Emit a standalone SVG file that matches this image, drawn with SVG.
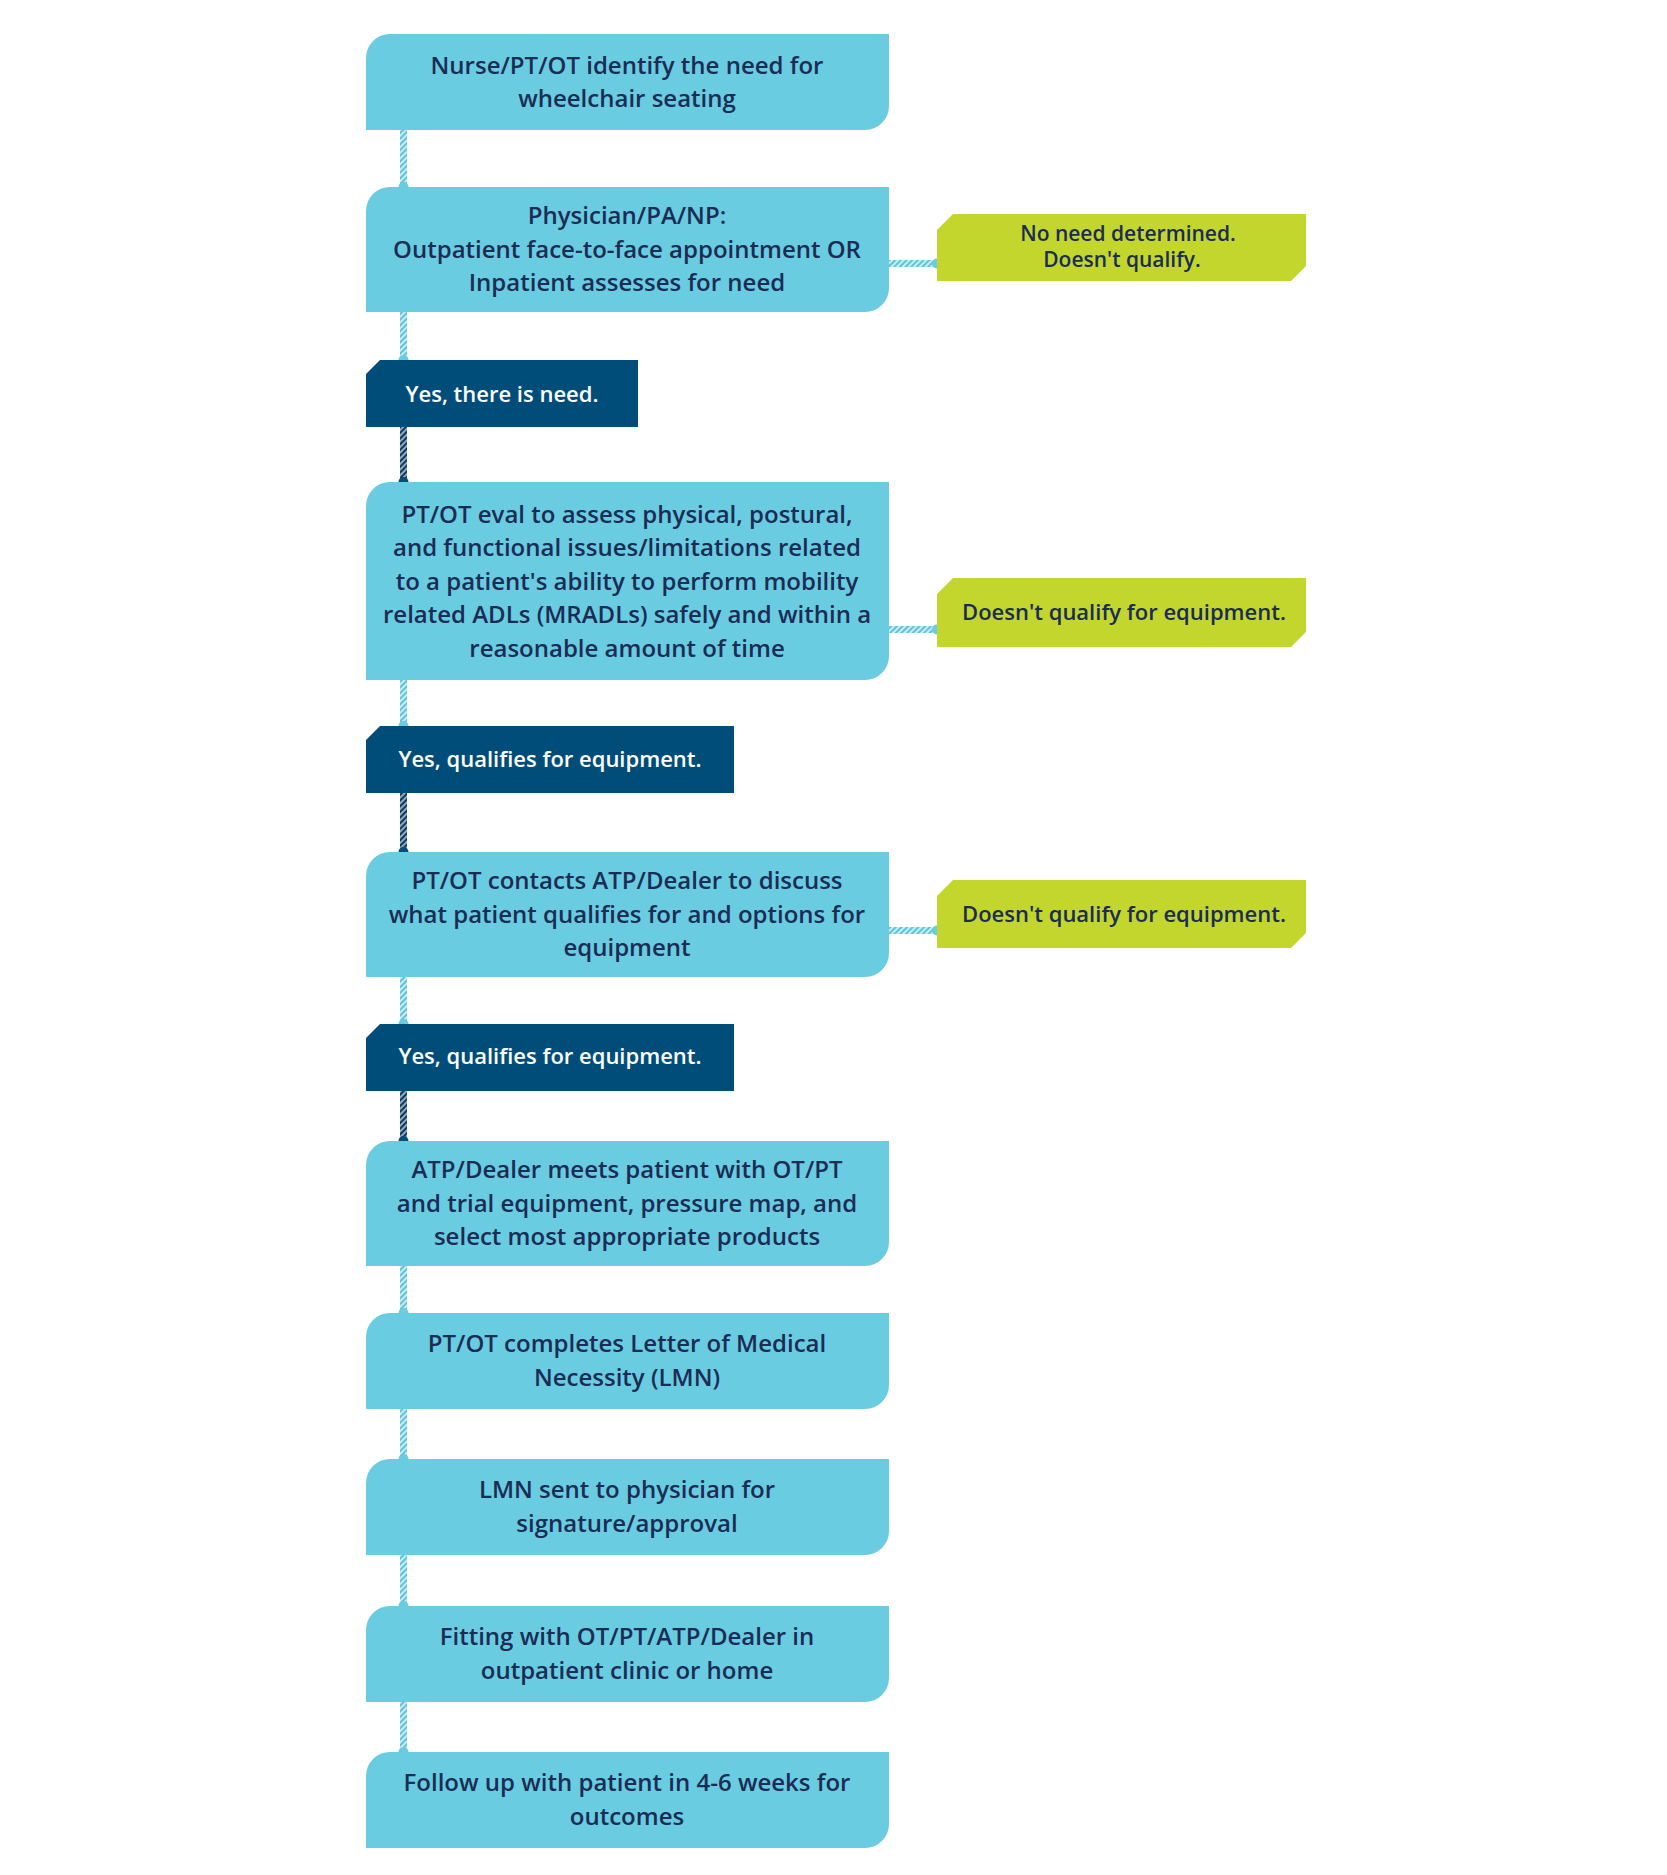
<svg xmlns="http://www.w3.org/2000/svg" width="1667" height="1875" viewBox="0 0 1667 1875">
<defs>
<pattern id="hl" width="4" height="4" patternUnits="userSpaceOnUse" patternTransform="rotate(45)"><rect width="4" height="4" fill="#c9ecf4"/><rect width="2" height="4" fill="#5cc4dc"/></pattern>
<pattern id="hd" width="4" height="4" patternUnits="userSpaceOnUse" patternTransform="rotate(45)"><rect width="4" height="4" fill="#8fa9bf"/><rect width="2" height="4" fill="#0e3a63"/></pattern>
<style>
.b{fill:#69cce1}
.d{fill:#004d7a}
.g{fill:#c2d62e}
text{font-family:"Open Sans","Noto Sans",sans-serif;text-anchor:middle;font-weight:600}
.t{font-size:24px;fill:#1b2c55}
.w{font-size:22px;fill:#ffffff}
.k{font-size:22px;fill:#1b2c55}
.k2{font-size:21px;fill:#1b2c55}
</style>
</defs>
<rect width="1667" height="1875" fill="#fff"/>
<g id="connectors">
<rect x="400" y="130" width="7" height="57" fill="url(#hl)"/><circle cx="403.5" cy="187" r="5" fill="#69cce1"/>
<rect x="400" y="312" width="7" height="48" fill="url(#hl)"/><circle cx="403.5" cy="360" r="5" fill="#69cce1"/>
<rect x="400" y="427" width="7" height="55" fill="url(#hd)"/><circle cx="403.5" cy="482" r="5" fill="#004d7a"/>
<rect x="400" y="680" width="7" height="46" fill="url(#hl)"/><circle cx="403.5" cy="726" r="5" fill="#69cce1"/>
<rect x="400" y="793" width="7" height="59" fill="url(#hd)"/><circle cx="403.5" cy="852" r="5" fill="#004d7a"/>
<rect x="400" y="977" width="7" height="47" fill="url(#hl)"/><circle cx="403.5" cy="1024" r="5" fill="#69cce1"/>
<rect x="400" y="1091" width="7" height="50" fill="url(#hd)"/><circle cx="403.5" cy="1141" r="5" fill="#004d7a"/>
<rect x="400" y="1266" width="7" height="47" fill="url(#hl)"/><circle cx="403.5" cy="1313" r="5" fill="#69cce1"/>
<rect x="400" y="1409" width="7" height="50" fill="url(#hl)"/><circle cx="403.5" cy="1459" r="5" fill="#69cce1"/>
<rect x="400" y="1555" width="7" height="51" fill="url(#hl)"/><circle cx="403.5" cy="1606" r="5" fill="#69cce1"/>
<rect x="400" y="1702" width="7" height="50" fill="url(#hl)"/><circle cx="403.5" cy="1752" r="5" fill="#69cce1"/>
<rect x="889" y="260" width="48" height="7" fill="url(#hl)"/><circle cx="937" cy="263.5" r="5" fill="#69cce1"/>
<rect x="889" y="626" width="48" height="7" fill="url(#hl)"/><circle cx="937" cy="629.5" r="5" fill="#69cce1"/>
<rect x="889" y="927" width="48" height="7" fill="url(#hl)"/><circle cx="937" cy="930.5" r="5" fill="#69cce1"/>
</g>
<g id="n1"><path class="b" d="M390 34H889V106A24 24 0 0 1 865 130H366V58A24 24 0 0 1 390 34Z"/>
<text class="t"><tspan x="627" y="74">Nurse/PT/OT identify the need for</tspan><tspan x="627" y="107">wheelchair seating</tspan></text></g>
<g id="n2"><path class="b" d="M390 187H889V288A24 24 0 0 1 865 312H366V211A24 24 0 0 1 390 187Z"/>
<text class="t"><tspan x="627" y="224">Physician/PA/NP:</tspan><tspan x="627" y="258">Outpatient face-to-face appointment OR</tspan><tspan x="627" y="291">Inpatient assesses for need</tspan></text></g>
<g id="g1"><path class="g" d="M953 214H1306V266L1291 281H937V230Z"/>
<text class="k2"><tspan x="1128" y="241">No need determined.</tspan><tspan x="1122" y="267">Doesn't qualify.</tspan></text></g>
<g id="y1"><path class="d" d="M380 360H638V427H366V374Z"/><text class="w" x="502" y="402">Yes, there is need.</text></g>
<g id="n3"><path class="b" d="M390 482H889V656A24 24 0 0 1 865 680H366V506A24 24 0 0 1 390 482Z"/>
<text class="t"><tspan x="627" y="523">PT/OT eval to assess physical, postural,</tspan><tspan x="627" y="556">and functional issues/limitations related</tspan><tspan x="627" y="590">to a patient's ability to perform mobility</tspan><tspan x="627" y="623">related ADLs (MRADLs) safely and within a</tspan><tspan x="627" y="657">reasonable amount of time</tspan></text></g>
<g id="g2"><path class="g" d="M953 578H1306V632L1291 647H937V594Z"/><text class="k" x="1124" y="620">Doesn't qualify for equipment.</text></g>
<g id="y2"><path class="d" d="M380 726H734V793H366V740Z"/><text class="w" x="550" y="767">Yes, qualifies for equipment.</text></g>
<g id="n4"><path class="b" d="M390 852H889V953A24 24 0 0 1 865 977H366V876A24 24 0 0 1 390 852Z"/>
<text class="t"><tspan x="627" y="889">PT/OT contacts ATP/Dealer to discuss</tspan><tspan x="627" y="923">what patient qualifies for and options for</tspan><tspan x="627" y="956">equipment</tspan></text></g>
<g id="g3"><path class="g" d="M953 880H1306V933L1291 948H937V896Z"/><text class="k" x="1124" y="922">Doesn't qualify for equipment.</text></g>
<g id="y3"><path class="d" d="M380 1024H734V1091H366V1038Z"/><text class="w" x="550" y="1064">Yes, qualifies for equipment.</text></g>
<g id="n5"><path class="b" d="M390 1141H889V1242A24 24 0 0 1 865 1266H366V1165A24 24 0 0 1 390 1141Z"/>
<text class="t"><tspan x="627" y="1178">ATP/Dealer meets patient with OT/PT</tspan><tspan x="627" y="1212">and trial equipment, pressure map, and</tspan><tspan x="627" y="1245">select most appropriate products</tspan></text></g>
<g id="n6"><path class="b" d="M390 1313H889V1385A24 24 0 0 1 865 1409H366V1337A24 24 0 0 1 390 1313Z"/>
<text class="t"><tspan x="627" y="1352">PT/OT completes Letter of Medical</tspan><tspan x="627" y="1386">Necessity (LMN)</tspan></text></g>
<g id="n7"><path class="b" d="M390 1459H889V1531A24 24 0 0 1 865 1555H366V1483A24 24 0 0 1 390 1459Z"/>
<text class="t"><tspan x="627" y="1498">LMN sent to physician for</tspan><tspan x="627" y="1532">signature/approval</tspan></text></g>
<g id="n8"><path class="b" d="M390 1606H889V1678A24 24 0 0 1 865 1702H366V1630A24 24 0 0 1 390 1606Z"/>
<text class="t"><tspan x="627" y="1645">Fitting with OT/PT/ATP/Dealer in</tspan><tspan x="627" y="1679">outpatient clinic or home</tspan></text></g>
<g id="n9"><path class="b" d="M390 1752H889V1824A24 24 0 0 1 865 1848H366V1776A24 24 0 0 1 390 1752Z"/>
<text class="t"><tspan x="627" y="1791">Follow up with patient in 4-6 weeks for</tspan><tspan x="627" y="1825">outcomes</tspan></text></g>
</svg>
